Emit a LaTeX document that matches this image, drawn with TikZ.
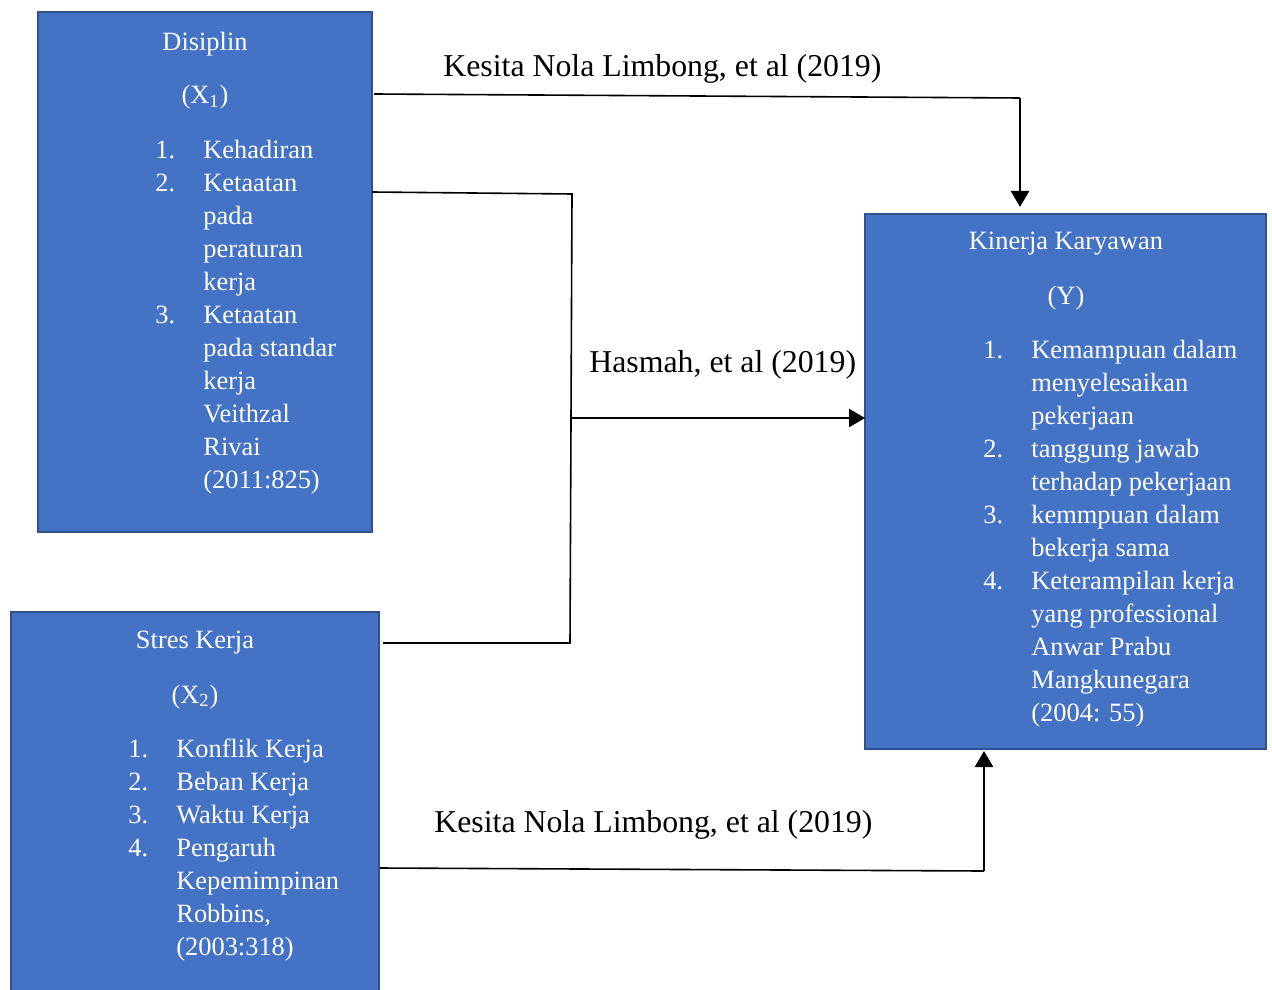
\documentclass[tikz,border=0pt]{standalone}
\usepackage{fontspec}
\setmainfont{Liberation Serif}
\usetikzlibrary{arrows.meta}
\definecolor{boxfill}{HTML}{4472C4}
\definecolor{boxline}{HTML}{2F528F}
\newcommand{\boxfont}{\fontsize{13.2}{16.5}\selectfont}
\newcommand{\labfont}{\fontsize{15.9}{19}\selectfont}
\begin{document}
\begin{tikzpicture}[x=0.5pt,y=-0.5pt,
  varbox/.style={draw=boxline, fill=boxfill, line width=0.9pt, anchor=north west, inner sep=0pt, outer sep=0pt},
  title/.style={text=white, font=\boxfont, anchor=base, inner sep=0pt},
  items/.style={text=white, font=\boxfont, anchor=base west, inner sep=0pt},
  lab/.style={font=\labfont, anchor=base west, inner sep=0pt},
  conn/.style={line width=0.8pt},
  arr/.style={line width=1.3pt, -{Triangle[length=8pt,width=9pt]}}
]
\useasboundingbox (0,0) rectangle (1272,989);

% boxes
\node[varbox, minimum width=167pt, minimum height=260pt] (dis) at (38,12) {};
\node[varbox, minimum width=184pt, minimum height=195pt] (str) at (11,612) {};
\node[varbox, minimum width=200.5pt, minimum height=267.5pt] (kin) at (865,214) {};

% Disiplin box text
\node[title] (t1) at (205,51) {Disiplin};
\node[title] (v1) at (205,104) {(X\textsubscript{1})};
\node[items] (l1) at (155,159) {\begin{tabular}[t]{@{}p{24pt}@{}l@{}}
1. & Kehadiran\\
2. & Ketaatan\\
   & pada\\
   & peraturan\\
   & kerja\\
3. & Ketaatan\\
   & pada standar\\
   & kerja\\
   & Veithzal\\
   & Rivai\\
   & (2011:825)
\end{tabular}};

% Stres Kerja box text
\node[title] (t2) at (195,648) {Stres Kerja};
\node[title] (v2) at (195,703) {(X\textsubscript{2})};
\node[items] (l2) at (128,757) {\begin{tabular}[t]{@{}p{24pt}@{}l@{}}
1. & Konflik Kerja\\
2. & Beban Kerja\\
3. & Waktu Kerja\\
4. & Pengaruh\\
   & Kepemimpinan\\
   & Robbins,\\
   & (2003:318)
\end{tabular}};

% Kinerja box text
\node[title] (t3) at (1066,250) {Kinerja Karyawan};
\node[title] (v3) at (1066,305) {(Y)};
\node[items] (l3) at (983,358) {\begin{tabular}[t]{@{}p{24pt}@{}l@{}}
1. & Kemampuan dalam\\
   & menyelesaikan\\
   & pekerjaan\\
2. & tanggung jawab\\
   & terhadap pekerjaan\\
3. & kemmpuan dalam\\
   & bekerja sama\\
4. & Keterampilan kerja\\
   & yang professional\\
   & Anwar Prabu\\
   & Mangkunegara\\
   & (2004: 55)
\end{tabular}};

% labels
\node[lab] (k1) at (443,77) {Kesita Nola Limbong, et al (2019)};
\node[lab] (h1) at (589,372) {Hasmah, et al (2019)};
\node[lab] (k2) at (434,832) {Kesita Nola Limbong, et al (2019)};

% connector coordinates
\coordinate (a0) at (374,94);
\coordinate (a1) at (1020,98);
\coordinate (b0) at (372,192);
\coordinate (b1) at (572,194);
\coordinate (b2) at (570,643);
\coordinate (b3) at (383,643);
\coordinate (h0) at (572,418);
\coordinate (c0) at (380,868);
\coordinate (c1) at (984,871);

% connectors
\draw[conn] (a0) -- (a1);
\draw[arr, shorten >=3.5pt] (a1) -- (a1 |- kin.north);
\draw[conn] (b0) -- (b1) -- (b2) -- (b3);
\draw[arr] (h0) -- (h0 -| kin.west);
\draw[conn] (c0) -- (c1);
\draw[arr, shorten >=1pt] (c1) -- (c1 |- kin.south);
\end{tikzpicture}
\end{document}
